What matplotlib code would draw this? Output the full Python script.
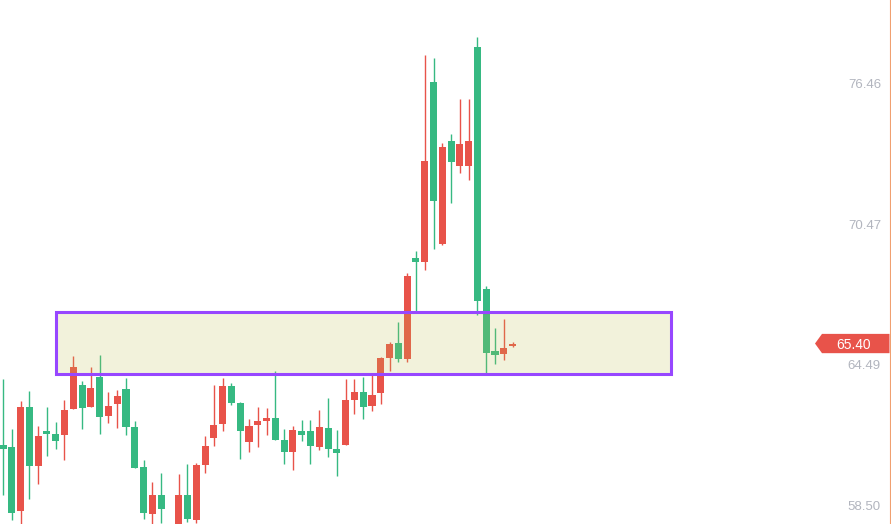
import numpy as np
import matplotlib
matplotlib.use("Agg")
import matplotlib.pyplot as plt
from matplotlib.patches import Rectangle, Polygon
from matplotlib.transforms import blended_transform_factory

# OHLC por vela (índice 19 em falta no gráfico original)
idx = list(range(0, 19)) + list(range(20, 59))
opens = [61.09, 61.00, 58.28, 62.71, 60.20, 61.69, 61.56, 61.52, 62.62, 63.64,
         62.71, 63.98, 62.32, 62.83, 63.47, 61.85, 60.16, 58.16, 58.97,
         57.50, 58.97, 57.90, 60.24, 61.39, 61.98, 63.60, 62.87, 61.22, 61.94,
         62.11, 62.24, 61.30, 60.79, 61.69, 61.69, 61.00, 61.81, 60.92, 61.09,
         63.00, 63.34, 62.75, 63.30, 64.79, 65.43, 64.75, 69.04, 68.87, 76.51,
         69.63, 74.01, 72.95, 72.95, 78.00, 67.72, 65.08, 64.96, 65.30]
highs = [63.89, 61.77, 62.96, 63.39, 61.90, 62.71, 62.07, 63.00, 64.87, 63.81,
         64.40, 64.92, 63.34, 63.43, 63.94, 62.11, 60.45, 59.52, 59.90,
         59.86, 60.28, 60.32, 61.47, 63.64, 63.94, 63.72, 62.92, 62.20, 62.71,
         62.66, 64.24, 61.77, 61.90, 62.15, 62.15, 62.58, 63.09, 61.73, 63.89,
         63.89, 63.98, 64.07, 64.83, 65.47, 66.32, 68.40, 69.33, 77.66, 77.54,
         73.92, 74.31, 75.79, 75.79, 78.43, 67.85, 66.06, 66.44, 65.47]
lows = [58.97, 57.90, 57.60, 58.80, 59.43, 60.62, 60.92, 60.45, 62.62, 61.77,
        62.71, 61.56, 62.02, 61.81, 61.52, 60.11, 57.95, 57.60, 57.78,
        57.40, 57.82, 57.78, 59.90, 61.05, 61.69, 62.79, 60.49, 60.79, 61.00,
        61.52, 61.30, 60.28, 60.03, 61.26, 60.28, 60.88, 60.58, 59.77, 61.09,
        62.41, 62.20, 62.53, 62.83, 64.24, 64.62, 64.62, 66.78, 68.53, 69.42,
        69.59, 71.37, 72.65, 72.35, 66.62, 64.15, 64.53, 64.70, 65.26]
closes = [60.93, 58.20, 62.71, 60.20, 61.47, 61.56, 61.26, 62.58, 64.40, 62.66,
          63.51, 62.28, 62.75, 63.17, 61.85, 60.11, 58.20, 58.97, 58.37,
          58.97, 57.95, 60.24, 61.05, 61.94, 63.60, 62.87, 61.69, 61.90, 62.11,
          62.24, 61.30, 60.79, 61.73, 61.52, 61.05, 61.85, 60.92, 60.75, 63.00,
          63.34, 62.71, 63.21, 64.79, 65.38, 64.75, 68.27, 68.87, 73.16, 71.46,
          73.75, 73.11, 73.88, 74.01, 67.21, 65.00, 64.91, 65.21, 65.40]

# zona de suporte/resistência
zone_x = (6.0, 76.0)
zone_y = (64.11, 66.72)

price_ticks = [76.46, 70.47, 64.49, 58.50]
last_price = 65.40

UP = "#E8534A"
DOWN = "#36B982"

x = np.asarray(idx, dtype=float)
o = np.asarray(opens)
h = np.asarray(highs)
l = np.asarray(lows)
c = np.asarray(closes)
colors = np.where(c >= o, UP, DOWN)

fig = plt.figure(figsize=(8.91, 5.24), dpi=100)
ax = fig.add_axes([0, 0, 889.5 / 891, 1])
ax.set_xlim(-0.34, 100.9)
ax.set_ylim(57.73, 80.0)

ax.vlines(x, l, h, colors=colors, linewidth=1.0, zorder=2)
body_lo = np.minimum(o, c)
body_h = np.maximum(np.abs(c - o), 0.06)
ax.bar(x, body_h, bottom=body_lo, width=0.8, color=colors, linewidth=0, zorder=3)

ax.add_patch(Rectangle((zone_x[0], zone_y[0]), zone_x[1] - zone_x[0], zone_y[1] - zone_y[0],
                       facecolor=(0.76, 0.745, 0.31, 0.2), edgecolor="none", zorder=4))
ax.add_patch(Rectangle((zone_x[0], zone_y[0]), zone_x[1] - zone_x[0], zone_y[1] - zone_y[0],
                       facecolor="none", edgecolor="#9747FF", linewidth=2.2, zorder=5))

tr = blended_transform_factory(ax.transAxes, ax.transData)
for t in price_ticks:
    ax.text(0.9904, t, f"{t:.2f}", transform=tr, ha="right", va="center_baseline",
            fontsize=9.5, color="#B2B5BE", family=["Liberation Sans", "DejaVu Sans"])

hh = 0.41
tip, left = 815 / 889.5, 822 / 889.5
ax.add_patch(Polygon([(tip, last_price), (left, last_price + hh), (1.0, last_price + hh),
                      (1.0, last_price - hh), (left, last_price - hh)],
                     closed=True, transform=tr, facecolor=UP, edgecolor="none", zorder=6))
ax.text(0.959, last_price, f"{last_price:.2f}", transform=tr, ha="center", va="center_baseline",
        fontsize=9.9, color="white", family=["Liberation Sans", "DejaVu Sans"], zorder=7)

for s in ("top", "left", "bottom"):
    ax.spines[s].set_visible(False)
ax.spines["right"].set_color("#F0A070")
ax.spines["right"].set_linewidth(0.8)
ax.set_xticks([])
ax.set_yticks([])

fig.savefig("out.png", dpi=100)
